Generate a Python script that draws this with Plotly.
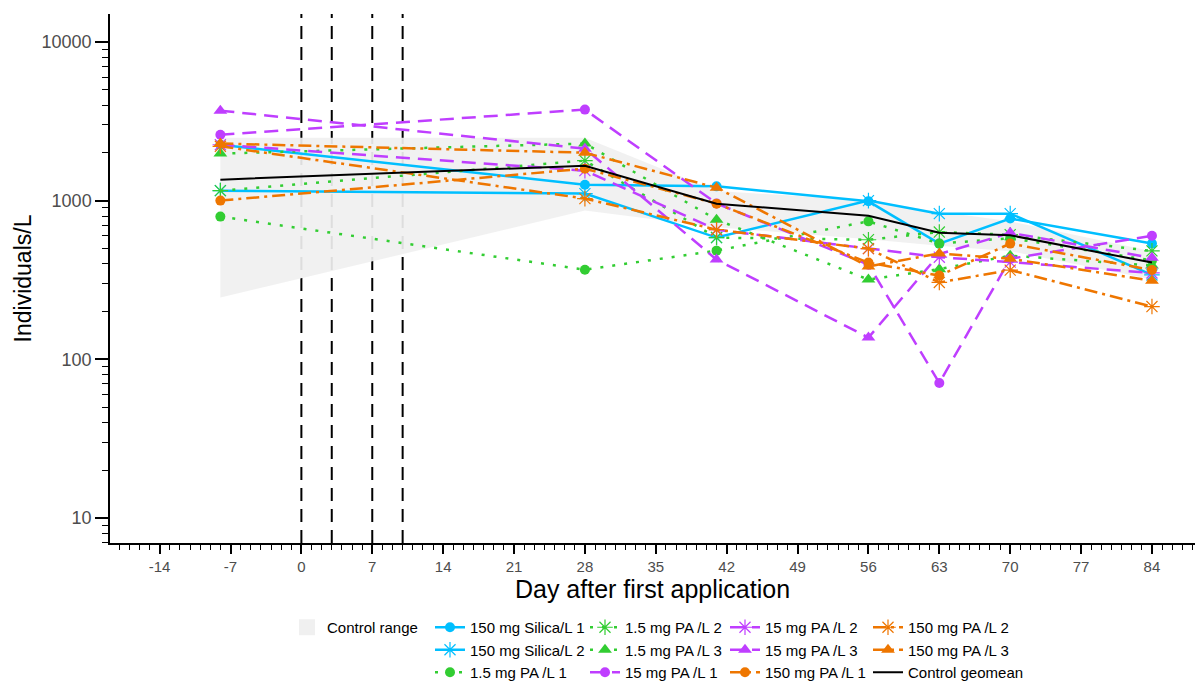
import plotly.graph_objects as go

# Sampling days (relative to first application)
days = [-8, 28, 41, 56, 63, 70, 84]
application_days = [0, 3, 7, 10]
x_tick_vals = list(range(-14, 85, 7))
x_tick_text = [str(v) for v in x_tick_vals]

# Abundance (Individuals/L) per treatment replicate
silica_150_1 = [2250, 1260, 1230, 990, 536, 771, 536]
silica_150_2 = [1156, 1107, 585, 1000, 828, 828, 340]
pa_1_5_1 = [793, 367, 484, 740, 536, 580, 420]
pa_1_5_2 = [1156, 1786, 585, 567, 634, 610, 482]
pa_1_5_3 = [1980, 2290, 759, 318, 370, 450, 390]
pa_15_1 = [2600, 3745, 960, 395, 71, 430, 601]
pa_15_2 = [2250, 1545, 656, 498, 440, 410, 350]
pa_15_3 = [3690, 2126, 425, 137, 460, 627, 436]
pa_150_1 = [1000, 1590, 957, 407, 337, 536, 365]
pa_150_2 = [2200, 1030, 656, 498, 305, 365, 215]
pa_150_3 = [2290, 2005, 1207, 385, 465, 430, 313]

# Control statistics
control_geomean = [1356, 1660, 957, 803, 628, 605, 407]
control_min = [245, 865, 680, 570, 520, 480, 320]
control_max = [2490, 2490, 1150, 1000, 850, 740, 480]

BLUE = "#00BFFF"
GREEN = "#32CD32"
PURPLE = "#BF3EFF"
ORANGE = "#EE7600"
RIBBON = "rgba(240,240,240,0.92)"

SOLID = "solid"
DOTTED = "3px,9px"
DASHED = "14px,8px"
DASHDOT = "13px,5px,3px,5px"

FONT = "Liberation Sans, Arial, sans-serif"

series = [
    ("150 mg Silica/L 1", silica_150_1, BLUE, SOLID, "circle", "legend2"),
    ("150 mg Silica/L 2", silica_150_2, BLUE, SOLID, "asterisk-open", "legend2"),
    ("1.5 mg PA /L 1", pa_1_5_1, GREEN, DOTTED, "circle", "legend2"),
    ("1.5 mg PA /L 2", pa_1_5_2, GREEN, DOTTED, "asterisk-open", "legend3"),
    ("1.5 mg PA /L 3", pa_1_5_3, GREEN, DOTTED, "triangle-up", "legend3"),
    ("15 mg PA /L 1", pa_15_1, PURPLE, DASHED, "circle", "legend3"),
    ("15 mg PA /L 2", pa_15_2, PURPLE, DASHED, "asterisk-open", "legend4"),
    ("15 mg PA /L 3", pa_15_3, PURPLE, DASHED, "triangle-up", "legend4"),
    ("150 mg PA /L 1", pa_150_1, ORANGE, DASHDOT, "circle", "legend4"),
    ("150 mg PA /L 2", pa_150_2, ORANGE, DASHDOT, "asterisk-open", "legend5"),
    ("150 mg PA /L 3", pa_150_3, ORANGE, DASHDOT, "triangle-up", "legend5"),
]

fig = go.Figure()

# Application dates
for d in application_days:
    fig.add_shape(
        type="line", xref="x", yref="paper", x0=d, x1=d, y0=0, y1=1,
        line=dict(color="black", width=2, dash="13px,8px"), layer="below",
    )

# Control range ribbon
fig.add_trace(go.Scatter(
    x=days + days[::-1],
    y=control_max + control_min[::-1],
    fill="toself", fillcolor=RIBBON,
    line=dict(width=0), mode="lines", name="Control range",
    showlegend=False, hoverinfo="skip",
))
# Square swatch for the ribbon's legend entry
fig.add_trace(go.Scatter(
    x=[None], y=[None], mode="markers", name="Control range",
    legend="legend", showlegend=True,
    marker=dict(symbol="square", size=22, color="#F0F0F0"),
))

for name, vals, color, dash, symbol, leg in series:
    is_star = symbol.startswith("asterisk")
    fig.add_trace(go.Scatter(
        x=days, y=vals, mode="lines+markers", name=name, legend=leg,
        line=dict(color=color, width=2.5, dash=dash),
        marker=dict(
            symbol=symbol, color=color,
            size=13 if is_star else (12 if symbol == "triangle-up" else 10),
            line=dict(color=color, width=1.2 if is_star else 0),
        ),
    ))

fig.add_trace(go.Scatter(
    x=days, y=control_geomean, mode="lines", name="Control geomean",
    legend="legend5", line=dict(color="black", width=2),
))

# Plot area in pixels: x 110..1195, y 14..543
PLOT_L, PLOT_W = 110, 1085
PLOT_B, PLOT_H = 543, 529

legend_common = dict(
    xanchor="left", yanchor="top",
    orientation="v", font=dict(family=FONT, size=15, color="black"),
    bgcolor="rgba(0,0,0,0)", borderwidth=0, traceorder="normal",
)
legend_x = {"legend": 287, "legend2": 430, "legend3": 585, "legend4": 725, "legend5": 868}
legend_layout = {
    key: dict(legend_common, x=(px - PLOT_L) / PLOT_W, y=(PLOT_B - 611) / PLOT_H)
    for key, px in legend_x.items()
}

fig.update_layout(
    width=1198, height=684,
    margin=dict(l=110, r=3, t=14, b=141, autoexpand=False),
    paper_bgcolor="white", plot_bgcolor="white",
    font=dict(family=FONT, color="black"),
    showlegend=True,
    **legend_layout,
)

fig.update_xaxes(
    range=[-18.9, 88.25], tickmode="array", tickvals=x_tick_vals, ticktext=x_tick_text,
    ticks="outside", ticklen=9, tickwidth=1.5, tickcolor="black",
    tickfont=dict(family=FONT, size=15, color="#4D4D4D"),
    showline=True, linecolor="black", linewidth=1.5,
    showgrid=False, zeroline=False,
    minor=dict(ticks="outside", ticklen=5, tickwidth=1, tickcolor="black",
               tickmode="linear", tick0=0, dtick=1, showgrid=False),
    title=dict(text="Day after first application", font=dict(family=FONT, size=25, color="black"), standoff=5),
)

fig.update_yaxes(
    type="log", range=[0.8425, 4.176], tickmode="linear", tick0=0, dtick=1,
    tickformat="d",
    ticks="outside", ticklen=13, tickwidth=1.5, tickcolor="black",
    tickfont=dict(family=FONT, size=18, color="#4D4D4D"),
    showline=True, linecolor="black", linewidth=1.5,
    showgrid=False, zeroline=False,
    minor=dict(ticks="outside", ticklen=6, tickwidth=1, tickcolor="black", dtick="D1", showgrid=False),
    title=dict(text="Individuals/L", font=dict(family=FONT, size=23, color="black"), standoff=4),
)

fig.write_html("out.html")
